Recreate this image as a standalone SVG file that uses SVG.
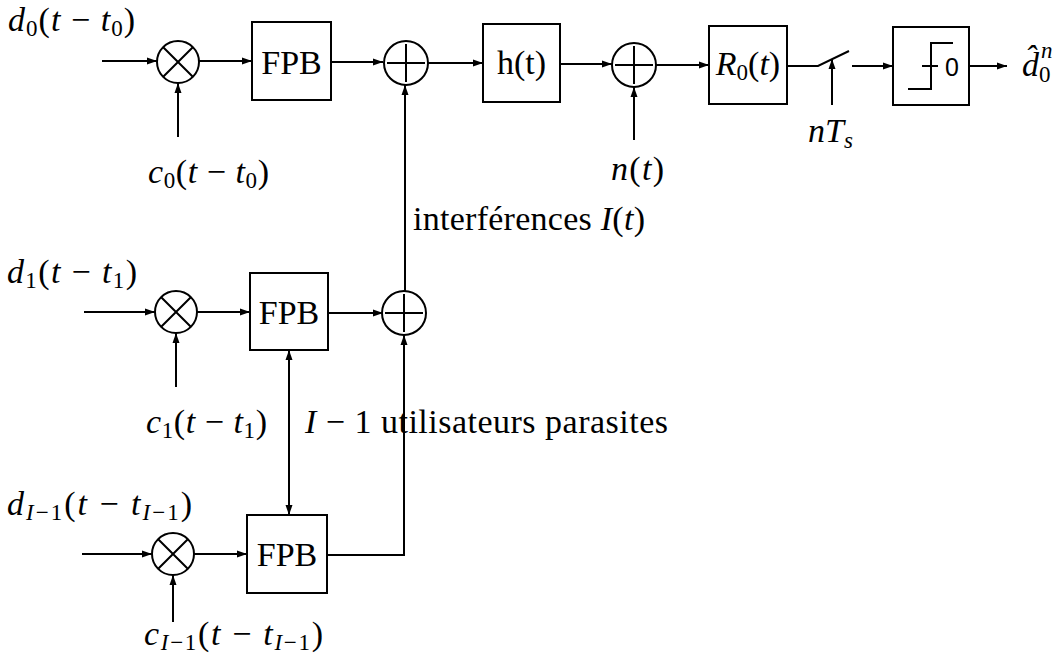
<svg xmlns="http://www.w3.org/2000/svg" width="1054" height="664" viewBox="0 0 1054 664">
<defs>
<marker id="ah" viewBox="0 0 10 10" refX="10" refY="5" markerWidth="5" markerHeight="5" orient="auto-start-reverse" markerUnits="strokeWidth">
<path d="M0,1.5 L10,5 L0,8.5 Z" fill="#000"/>
</marker>
<style>
.ln{stroke:#000;stroke-width:2;fill:none}
.ar{stroke:#000;stroke-width:2;fill:none;marker-end:url(#ah)}
.bx{stroke:#000;stroke-width:2;fill:#fff}
.t{font-family:"Liberation Serif",serif;font-size:34px;fill:#000}
.bt{font-family:"Liberation Serif",serif;font-size:34px;fill:#000;text-anchor:middle}
.i{font-style:italic}
.s{font-size:23px}
</style>
</defs>
<rect width="1054" height="664" fill="#fff"/>

<g id="connectors">
<line class="ar" x1="102" y1="61" x2="157" y2="61"/>
<line class="ar" x1="178" y1="137" x2="178" y2="83"/>
<line class="ar" x1="199" y1="61" x2="252" y2="61"/>
<line class="ar" x1="331" y1="62" x2="383" y2="62"/>
<line class="ar" x1="428" y1="63" x2="483" y2="63"/>
<line class="ar" x1="560" y1="64" x2="612" y2="64"/>
<line class="ar" x1="634" y1="140" x2="634" y2="87"/>
<line class="ar" x1="656" y1="65" x2="709" y2="65"/>
<polyline class="ln" points="787,66 818,66 849,51"/>
<line class="ar" x1="832" y1="105" x2="832" y2="59"/>
<line class="ar" x1="852" y1="66" x2="893" y2="66"/>
<line class="ar" x1="969" y1="66" x2="1007" y2="66"/>
<line class="ar" x1="405" y1="291" x2="405" y2="85"/>
<line class="ar" x1="84" y1="312" x2="155" y2="312"/>
<line class="ar" x1="176" y1="387" x2="176" y2="333"/>
<line class="ar" x1="197" y1="312" x2="250" y2="312"/>
<line class="ar" x1="328" y1="313" x2="383" y2="313"/>
<polyline class="ar" points="327,555 404,555 404,335"/>
<line class="ar" x1="289" y1="433" x2="289" y2="350"/>
<line class="ar" x1="289" y1="433" x2="289" y2="515"/>
<line class="ar" x1="82" y1="554" x2="152" y2="554"/>
<line class="ar" x1="173" y1="622" x2="173" y2="575"/>
<line class="ar" x1="194" y1="554" x2="247" y2="554"/>
</g>

<g id="mult0"><circle class="bx" cx="178" cy="62" r="21"/><path class="ln" d="M163.2,47.2 L192.8,76.8 M192.8,47.2 L163.2,76.8"/></g>
<g id="fpb0"><rect class="bx" x="252" y="22" width="79" height="78"/><text class="bt" x="291.5" y="74">FPB</text></g>
<g id="sum1"><circle class="bx" cx="406" cy="63" r="22"/><path class="ln" d="M387,63 L425,63 M406,44 L406,82"/></g>
<g id="h"><rect class="bx" x="483" y="24" width="77" height="78"/><text class="bt" x="521.5" y="74">h(t)</text></g>
<g id="sum2"><circle class="bx" cx="634" cy="65" r="22"/><path class="ln" d="M615,65 L653,65 M634,46 L634,84"/></g>
<g id="r0"><rect class="bx" x="709" y="26" width="78" height="78"/><text class="bt" x="748" y="75"><tspan class="i">R</tspan><tspan class="s" dy="5">0</tspan><tspan dy="-5">(</tspan><tspan class="i">t</tspan>)</text></g>
<g id="thresh"><rect class="bx" x="893" y="27" width="76" height="78"/><path class="ln" d="M908,89 L931,89 L931,43 L953,43 M922,66 L938,66"/><text x="952" y="76" style="font-family:'Liberation Sans',sans-serif;font-size:25px;text-anchor:middle">0</text></g>

<g id="mult1"><circle class="bx" cx="176" cy="312" r="21"/><path class="ln" d="M161.2,297.2 L190.8,326.8 M190.8,297.2 L161.2,326.8"/></g>
<g id="fpb1"><rect class="bx" x="250" y="273" width="78" height="77"/><text class="bt" x="289" y="324">FPB</text></g>
<g id="sum3"><circle class="bx" cx="404" cy="313" r="22"/><path class="ln" d="M385,313 L423,313 M404,294 L404,332"/></g>

<g id="mult2"><circle class="bx" cx="173" cy="554" r="21"/><path class="ln" d="M158.2,539.2 L187.8,568.8 M187.8,539.2 L158.2,568.8"/></g>
<g id="fpb2"><rect class="bx" x="247" y="515" width="80" height="78"/><text class="bt" x="287" y="566">FPB</text></g>

<g id="labels">
<text class="t" x="8" y="31" textLength="127" lengthAdjust="spacing"><tspan class="i">d</tspan><tspan class="s" dy="5">0</tspan><tspan dy="-5">(</tspan><tspan class="i">t</tspan> − <tspan class="i">t</tspan><tspan class="s" dy="5">0</tspan><tspan dy="-5">)</tspan></text>
<text class="t" x="148" y="183" textLength="121" lengthAdjust="spacing"><tspan class="i">c</tspan><tspan class="s" dy="5">0</tspan><tspan dy="-5">(</tspan><tspan class="i">t</tspan> − <tspan class="i">t</tspan><tspan class="s" dy="5">0</tspan><tspan dy="-5">)</tspan></text>
<text class="t" x="611" y="180" textLength="53" lengthAdjust="spacing"><tspan class="i">n</tspan>(<tspan class="i">t</tspan>)</text>
<text class="t" x="808" y="142"><tspan class="i">nT</tspan><tspan class="s i" dy="6">s</tspan></text>
<text class="t" x="1022" y="76"><tspan class="i">d̂</tspan><tspan class="s" dy="6">0</tspan></text>
<text class="t s i" x="1041" y="58">n</text>
<text class="t" x="413" y="230" textLength="232" lengthAdjust="spacing">interférences <tspan class="i">I</tspan>(<tspan class="i">t</tspan>)</text>
<text class="t" x="7" y="283" textLength="130" lengthAdjust="spacing"><tspan class="i">d</tspan><tspan class="s" dy="5">1</tspan><tspan dy="-5">(</tspan><tspan class="i">t</tspan> − <tspan class="i">t</tspan><tspan class="s" dy="5">1</tspan><tspan dy="-5">)</tspan></text>
<text class="t" x="146" y="433" textLength="121" lengthAdjust="spacing"><tspan class="i">c</tspan><tspan class="s" dy="5">1</tspan><tspan dy="-5">(</tspan><tspan class="i">t</tspan> − <tspan class="i">t</tspan><tspan class="s" dy="5">1</tspan><tspan dy="-5">)</tspan></text>
<text class="t" x="305" y="433" textLength="363" lengthAdjust="spacing"><tspan class="i">I</tspan> − 1 utilisateurs parasites</text>
<text class="t" x="7" y="515" textLength="185" lengthAdjust="spacing"><tspan class="i">d</tspan><tspan class="s i" dy="5">I</tspan><tspan class="s">−1</tspan><tspan dy="-5">(</tspan><tspan class="i">t</tspan> − <tspan class="i">t</tspan><tspan class="s i" dy="5">I</tspan><tspan class="s">−1</tspan><tspan dy="-5">)</tspan></text>
<text class="t" x="144" y="645" textLength="179" lengthAdjust="spacing"><tspan class="i">c</tspan><tspan class="s i" dy="5">I</tspan><tspan class="s">−1</tspan><tspan dy="-5">(</tspan><tspan class="i">t</tspan> − <tspan class="i">t</tspan><tspan class="s i" dy="5">I</tspan><tspan class="s">−1</tspan><tspan dy="-5">)</tspan></text>
</g>
</svg>
